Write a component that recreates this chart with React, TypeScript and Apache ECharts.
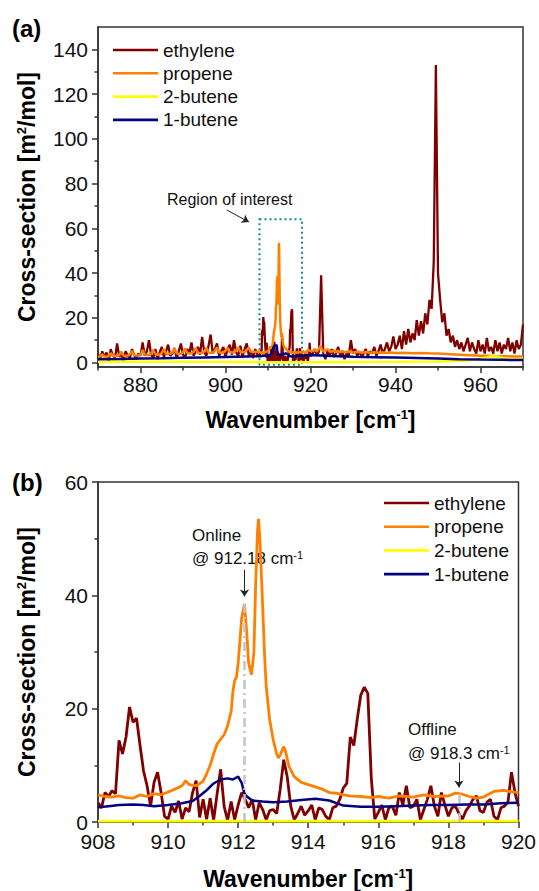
import React, { useEffect, useRef } from "react";
import * as echarts from "echarts";

const FONT = '"Liberation Sans", Arial, Helvetica, sans-serif';

// ---------- DATA ----------
const seriesNames = ["ethylene", "propene", "2-butene", "1-butene"];
const seriesColors = ["#800000", "#ff8000", "#ffff00", "#000080"];

// panel (a) tick labels
const xTicksA = [880, 900, 920, 940, 960];
const xMinorA = [870, 890, 910, 930, 950, 970];
const yTicksA = [0, 20, 40, 60, 80, 100, 120, 140];
const yMinorA = [10, 30, 50, 70, 90, 110, 130];

// wide spectrum, 870 .. 907.5, every 0.5 cm-1
const WIDE_LEFT_START = 870;
const WIDE_STEP = 0.5;
const ethyleneWideLeft = [
  4, 1.5, 5, 2.5, 4.5, 0.5, 6, 3, 2, 8.5,
  2.5, 4, 1, 5, 3, 2, 6, 3.5, 1.5, 4,
  3, 9, 3, 5, 10, 3.5, 2, 6, 1.5, 4.5,
  7, 2.5, 5, 8, 3, 4, 6.5, 2, 5, 8.5,
  3.5, 2, 6, 4, 9, 3, 5, 7, 3.5, 11.5,
  4.5, 3, 7.5, 12.5, 4, 6, 8.5, 3, 5, 7,
  2.5, 6, 8, 3.5, 10, 4.5, 3, 7.5, 2.5, 6,
  8.5, 3, 5, 2, 6, 3.5,
];
const propeneWideLeft = [
  2.6, 2.8, 3.6, 2.7, 2.6, 2.9, 4.2, 3.0, 2.8, 2.9,
  3.3, 4.8, 3.1, 2.9, 3.1, 3.6, 5.2, 3.4, 3.1, 3.1,
  3.5, 5.6, 3.6, 3.3, 3.4, 4.0, 5.6, 3.8, 3.5, 3.6,
  4.2, 6.0, 3.9, 3.7, 3.9, 4.5, 6.2, 4.2, 3.8, 3.9,
  4.6, 6.3, 4.3, 4.0, 4.1, 4.8, 6.5, 4.4, 4.2, 4.3,
  5.0, 6.6, 4.5, 4.3, 4.4, 5.2, 6.7, 4.6, 4.4, 4.5,
  5.3, 6.6, 4.7, 4.5, 4.6, 5.4, 6.8, 4.8, 4.6, 4.7,
  5.6, 6.6, 4.8, 4.7, 4.8, 4.8,
];

// wide spectrum, 920.5 .. 970, every 0.5 cm-1
const WIDE_RIGHT_START = 920.5;
const ethyleneWideRight = [
  4, 6, 3, 5, 39, 4, 1.5, 5, 3, 6,
  2.5, 4, 7, 3, 5, 1.5, 4, 3, 10, 4,
  6, 3, 5, 2.5, 4, 6, 3, 5, 4, 7,
  3, 5, 8, 4, 6, 9, 5, 7, 11.7, 6,
  8, 12, 6, 14, 8, 15, 9, 13, 10, 19,
  12, 18.5, 13, 22, 17, 28, 24, 45, 133, 40,
  28, 18, 22, 12, 15, 9, 12, 7, 10, 6,
  9, 5, 8, 11, 5, 9, 6, 4, 10, 5,
  8, 4, 11, 5, 7, 4, 10, 5, 9, 4,
  8, 6, 11, 5, 9, 4, 10, 6, 8, 17,
];
const propeneWideRight: [number, number][] = [
  [920.5, 5.1], [921, 5.6], [921.5, 5.0], [922, 6.2], [922.3, 7.5], [922.7, 5.8], [923, 5.0],
  [923.5, 5.4], [924, 5.9], [924.5, 5.0], [925, 4.8], [925.5, 5.5], [926, 4.7], [926.5, 5.3],
  [927, 4.6], [927.5, 5.1], [928, 4.6], [929, 4.9], [930, 4.5], [931, 4.8], [932, 4.5],
  [933, 4.7], [934, 4.4], [935, 4.6], [936, 4.4], [937, 4.5], [938, 4.3], [939, 4.5],
  [940, 4.3], [942, 4.4], [944, 4.2], [946, 4.3], [948, 4.1], [950, 4.0], [952, 3.8],
  [954, 3.6], [956, 3.4], [958, 3.2], [960, 3.0], [962, 3.0], [964, 2.8], [966, 2.8],
  [968, 2.7], [970, 2.7],
];
const butene1WideLeft: [number, number][] = [
  [870, 1.5], [875, 1.6], [880, 1.8], [885, 1.9], [890, 2.1], [895, 2.3], [900, 2.5], [905, 2.7], [907.9, 2.8],
];
const butene1WideRight: [number, number][] = [
  [920.1, 3.3], [925, 2.9], [930, 2.6], [935, 2.4], [940, 2.2], [945, 2.0], [950, 1.8],
  [955, 1.5], [960, 1.3], [965, 1.2], [970, 1.1],
];
const butene2WideLeft: [number, number][] = [[870, 0.3], [890, 0.3], [907.9, 0.2]];
const butene2WideRight: [number, number][] = [
  [920.1, 0.2], [940, 0.3], [950, 0.5], [956, 0.8], [959, 1.3], [961, 2.2], [962.5, 2.8],
  [964, 2.6], [965.5, 1.8], [967, 1.4], [970, 1.7],
];

// region of interest 908 .. 920, ethylene every 0.1 cm-1
const ROI_START = 908;
const ROI_STEP = 0.1;
const ethyleneROI = [
  3.4, 2.5, 5.2, 4.5, 5.5, 5.0, 14.4, 12.0, 15, 20.3,
  17.6, 18.3, 13.5, 9, 6.4, 2.8, 7, 8.8, 5.2, 1,
  0.5, 2.8, 1.7, 3.7, 0.5, 2.5, 1.8, 5.2, 7.3, 0.8,
  4, 0.5, 4.2, 0.3, 5, 9.3, 2.7, 0.3, 3.6, 0.4,
  3, 5.2, 4, 2.5, 4, 0.4, 3.4, 2.2, 0.4, 2,
  2.2, 1.5, 5.8, 11, 8, 2.8, 0.4, 1.5, 2.8, 1.2,
  2, 3, 0.4, 2.5, 2.2, 1, 0.4, 2.5, 2.8, 4,
  6, 6.8, 15, 13.5, 18.2, 22.4, 23.8, 22.7, 7.6, 0.5,
  1.7, 3, 0.4, 2.5, 2.8, 1.2, 5.2, 3, 6.4, 2.5,
  2.8, 4, 0.4, 2.2, 4, 6.4, 2.8, 1, 5.2, 3,
  1, 2.5, 2.8, 1.5, 0.5, 2, 2.8, 4, 4.6, 2,
  1.7, 3.5, 4, 1, 0.4, 2.5, 2.8, 3.5, 8.8, 5.2,
  2.8,
];
const propeneROI: [number, number][] = [
  [908, 4.8], [908.2, 4.5], [908.4, 4.4], [908.6, 4.6], [908.8, 4.3], [909, 4.2], [909.2, 4.8],
  [909.4, 4.5], [909.6, 5], [909.8, 4.8], [910, 5.3], [910.2, 5.8], [910.4, 6.4], [910.5, 7.3],
  [910.6, 6.6], [910.8, 6.4], [911, 7.2], [911.1, 8.5], [911.2, 10], [911.3, 12], [911.4, 13.8],
  [911.5, 14.6], [911.6, 15.4], [911.7, 17], [911.8, 19.5], [911.85, 23], [911.9, 25],
  [911.95, 25.5], [912.0, 28], [912.05, 32], [912.1, 36], [912.18, 38.5], [912.25, 33],
  [912.3, 28], [912.38, 26], [912.45, 30], [912.5, 42], [912.55, 51], [912.58, 53.5],
  [912.62, 50], [912.7, 38], [912.75, 30], [912.8, 24], [912.9, 18], [913.0, 14.5],
  [913.1, 12], [913.15, 11.3], [913.2, 11.8], [913.3, 13.3], [913.35, 12.5], [913.45, 9.8],
  [913.6, 8], [913.8, 7], [914, 6.6], [914.2, 6.2], [914.4, 5.8], [914.6, 5.2], [914.8, 5.1],
  [915, 4.8], [915.2, 4.6], [915.5, 4.5], [915.8, 4.3], [916, 4.5], [916.3, 4.2], [916.6, 4.6],
  [917, 4.4], [917.3, 4.8], [917.6, 4.5], [918, 4.6], [918.2, 5.1], [918.4, 4.9], [918.6, 4.5],
  [918.8, 4.2], [919, 4.4], [919.3, 5.4], [919.6, 5.6], [919.8, 5.3], [920, 5.2],
];
const butene1ROI: [number, number][] = [
  [908, 2.6], [908.3, 2.8], [908.6, 3.0], [909, 3.1], [909.3, 3.0], [909.6, 2.8], [910, 3.0],
  [910.4, 3.3], [910.7, 3.7], [910.9, 4.6], [911.1, 5.6], [911.3, 6.8], [911.5, 7.5],
  [911.7, 7.7], [911.85, 7.5], [912.0, 8.0], [912.1, 6.9], [912.18, 5.0], [912.25, 4.5],
  [912.4, 3.8], [912.7, 3.6], [913, 3.5], [913.4, 3.6], [913.8, 3.9], [914.2, 4.1],
  [914.6, 3.8], [915, 2.9], [915.5, 2.7], [916, 2.7], [916.5, 2.8], [917, 2.9], [917.5, 3.0],
  [918, 3.0], [918.5, 3.1], [919, 3.1], [919.5, 3.3], [920, 3.4],
];
const butene2ROI: [number, number][] = [[908, 0.15], [920, 0.15]];

// annotations (data coordinates)
const roiBox = { x0: 908, x1: 918, y0: -1, y1: 64 };
const roiArrow = [[900.3, 68.2], [905.5, 62.8]];
const onlineX = 912.18;
const onlinePeak = 38.5;
const onlineArrow = [44.5, 39.8];
const offlineX = 918.3;
const offlineTop = 5.2;
const offlineArrow = [10.5, 6.1];

// ---------- helpers ----------
const toPairs = (start: number, step: number, ys: number[]) =>
  ys.map((y, i) => [Number((start + i * step).toFixed(2)), y]);

const ethyleneROIPairs = toPairs(ROI_START, ROI_STEP, ethyleneROI);
const topData = [
  [...toPairs(WIDE_LEFT_START, WIDE_STEP, ethyleneWideLeft), ...ethyleneROIPairs, ...toPairs(WIDE_RIGHT_START, WIDE_STEP, ethyleneWideRight)],
  [...toPairs(WIDE_LEFT_START, WIDE_STEP, propeneWideLeft), ...propeneROI, ...propeneWideRight],
  [...butene2WideLeft, ...butene2ROI, ...butene2WideRight],
  [...butene1WideLeft, ...butene1ROI, ...butene1WideRight],
];
const bottomData = [ethyleneROIPairs, propeneROI, butene2ROI, butene1ROI];

const AXIS_COLOR = "#333";
const axisLineStyle = { color: AXIS_COLOR, width: 1.5 };
const tickLabel = { color: "#111", fontSize: 21, fontFamily: FONT };
const nameStyle = {
  fontFamily: FONT,
  fontSize: 23,
  fontWeight: "bold" as const,
  color: "#000",
  rich: {
    b: { fontFamily: FONT, fontSize: 23, fontWeight: "bold", color: "#000" },
    s: { fontFamily: FONT, fontSize: 13, fontWeight: "bold", color: "#000", verticalAlign: "top" },
  },
};
const xName = "{b|Wavenumber [cm}{s|-1}{b|]}";
const yName = "{b|Cross-section [m}{s|2}{b|/mol]}";

function buildOption() {
  const series: any[] = [];
  seriesNames.forEach((name, i) => {
    series.push({
      type: "line",
      name,
      xAxisIndex: 0,
      yAxisIndex: 0,
      data: topData[i],
      symbol: "none",
      silent: true,
      lineStyle: { color: seriesColors[i], width: i === 0 ? 2.3 : 2.5 },
      itemStyle: { color: seriesColors[i] },
    });
  });
  seriesNames.forEach((name, i) => {
    series.push({
      type: "line",
      name,
      xAxisIndex: 2,
      yAxisIndex: 2,
      data: bottomData[i],
      symbol: "none",
      silent: true,
      lineStyle: { color: seriesColors[i], width: i === 3 ? 2.5 : 2.8 },
      itemStyle: { color: seriesColors[i] },
    });
  });
  // top annotations
  series[3].markArea = {
    silent: true,
    itemStyle: { color: "rgba(0,0,0,0)", borderColor: "#178a8a", borderWidth: 2, borderType: [2, 3] },
    data: [[{ coord: [roiBox.x0, roiBox.y1] }, { coord: [roiBox.x1, roiBox.y0] }]],
  };
  series[3].markLine = {
    silent: true,
    symbol: ["none", "arrow"],
    symbolSize: 7,
    label: { show: false },
    lineStyle: { color: "#222", width: 1, type: "solid" },
    data: [[{ coord: roiArrow[0] }, { coord: roiArrow[1] }]],
  };
  // bottom annotations
  const dashDot = { color: "#c4c4c4", width: 2.5, type: [9, 4, 2, 4] };
  const arrowStyle = { color: "#222", width: 1, type: "solid" };
  series[7].markLine = {
    silent: true,
    symbol: ["none", "none"],
    label: { show: false },
    data: [
      [{ coord: [onlineX, 0], lineStyle: dashDot }, { coord: [onlineX, onlinePeak] }],
      [{ coord: [offlineX, 0], lineStyle: dashDot }, { coord: [offlineX, offlineTop] }],
      [
        { coord: [onlineX, onlineArrow[0]], lineStyle: arrowStyle, symbol: "none" },
        { coord: [onlineX, onlineArrow[1]], symbol: "arrow", symbolSize: 7 },
      ],
      [
        { coord: [offlineX, offlineArrow[0]], lineStyle: arrowStyle, symbol: "none" },
        { coord: [offlineX, offlineArrow[1]], symbol: "arrow", symbolSize: 7 },
      ],
    ],
  };

  const supText = (x: number, y: number, main: string, sup: string) => ({
    type: "text",
    x,
    y,
    silent: true,
    style: {
      text: `{a|${main}}{s|${sup}}`,
      verticalAlign: "middle",
      rich: {
        a: { fontFamily: FONT, fontSize: 17, fill: "#111" },
        s: { fontFamily: FONT, fontSize: 11, fill: "#111", verticalAlign: "top" },
      },
    },
  });
  const plainText = (x: number, y: number, text: string, size: number, bold = false) => ({
    type: "text",
    x,
    y,
    silent: true,
    style: {
      text,
      fontFamily: FONT,
      fontSize: size,
      fontWeight: bold ? "bold" : "normal",
      fill: bold ? "#000" : "#111",
      verticalAlign: "middle",
    },
  });

  const legendBase = {
    orient: "vertical",
    data: seriesNames,
    itemWidth: 45,
    itemHeight: 14,
    icon: "path://M0,5.7 L45,5.7 L45,8.3 L0,8.3 Z",
    textStyle: { fontFamily: FONT, fontSize: 19, color: "#111", lineHeight: 19 },
    selectedMode: false,
  };

  return {
    animation: false,
    textStyle: { fontFamily: FONT },
    grid: [
      { left: 98, top: 27, width: 425, height: 340, show: true, borderColor: AXIS_COLOR, borderWidth: 1.5, backgroundColor: "transparent" },
      { left: 98, top: 482, width: 425, height: 341, show: true, borderColor: AXIS_COLOR, borderWidth: 1.5, backgroundColor: "transparent" },
    ],
    legend: [
      { ...legendBase, left: 108, top: 35.5, itemGap: 4.3 },
      { ...legendBase, left: 379, top: 488.5, itemGap: 4.7 },
    ],
    xAxis: [
      {
        gridIndex: 0, type: "value", min: 870, max: 970, position: "bottom",
        axisLine: { onZero: false, lineStyle: axisLineStyle },
        axisTick: { customValues: xTicksA, length: 6, lineStyle: axisLineStyle },
        axisLabel: { customValues: xTicksA, margin: 7, ...tickLabel },
        splitLine: { show: false },
        name: xName, nameLocation: "middle", nameGap: 41, nameTextStyle: nameStyle,
      },
      {
        gridIndex: 0, type: "value", min: 870, max: 970, position: "bottom",
        axisLine: { show: false, onZero: false },
        axisTick: { customValues: xMinorA, length: 3.5, lineStyle: axisLineStyle },
        axisLabel: { show: false },
        splitLine: { show: false },
      },
      {
        gridIndex: 1, type: "value", min: 908, max: 920, interval: 2, position: "bottom",
        axisLine: { onZero: false, lineStyle: axisLineStyle },
        axisTick: { length: 6, lineStyle: axisLineStyle },
        minorTick: { show: true, splitNumber: 2, length: 3.5, lineStyle: axisLineStyle },
        axisLabel: { margin: 9, ...tickLabel },
        splitLine: { show: false },
        minorSplitLine: { show: false },
        name: xName, nameLocation: "middle", nameGap: 45, nameTextStyle: nameStyle,
      },
    ],
    yAxis: [
      {
        gridIndex: 0, type: "value", min: -2, max: 150, position: "left",
        axisLine: { show: true, onZero: false, lineStyle: axisLineStyle },
        axisTick: { show: true, customValues: yTicksA, length: 6, lineStyle: axisLineStyle },
        axisLabel: { customValues: yTicksA, margin: 10, ...tickLabel },
        splitLine: { show: false },
        name: yName, nameLocation: "middle", nameGap: 60, nameTextStyle: nameStyle,
      },
      {
        gridIndex: 0, type: "value", min: -2, max: 150, position: "left",
        axisLine: { show: false, onZero: false },
        axisTick: { show: true, customValues: yMinorA, length: 3.5, lineStyle: axisLineStyle },
        axisLabel: { show: false },
        splitLine: { show: false },
      },
      {
        gridIndex: 1, type: "value", min: 0, max: 60, interval: 20, position: "left",
        axisLine: { show: true, onZero: false, lineStyle: axisLineStyle },
        axisTick: { show: true, length: 6, lineStyle: axisLineStyle },
        minorTick: { show: true, splitNumber: 2, length: 3.5, lineStyle: axisLineStyle },
        axisLabel: { margin: 10, ...tickLabel },
        splitLine: { show: false },
        minorSplitLine: { show: false },
        name: yName, nameLocation: "middle", nameGap: 60, nameTextStyle: nameStyle,
      },
    ],
    series,
    graphic: [
      plainText(12, 28, "(a)", 24, true),
      plainText(12, 482, "(b)", 24, true),
      plainText(167, 199, "Region of interest", 16),
      plainText(192, 535, "Online", 17),
      supText(192, 558, "@ 912.18 cm", "-1"),
      plainText(408, 729, "Offline", 17),
      supText(408, 753, "@ 918.3 cm", "-1"),
    ],
  };
}

export default function App() {
  const ref = useRef<HTMLDivElement>(null);
  useEffect(() => {
    if (!ref.current) return;
    const chart = echarts.init(ref.current, null, { renderer: "svg" });
    chart.setOption(buildOption() as any);
    return () => chart.dispose();
  }, []);
  return (
    <div
      ref={ref}
      style={{ position: "absolute", left: 0, top: 0, width: 539, height: 891, background: "#fff" }}
    />
  );
}
